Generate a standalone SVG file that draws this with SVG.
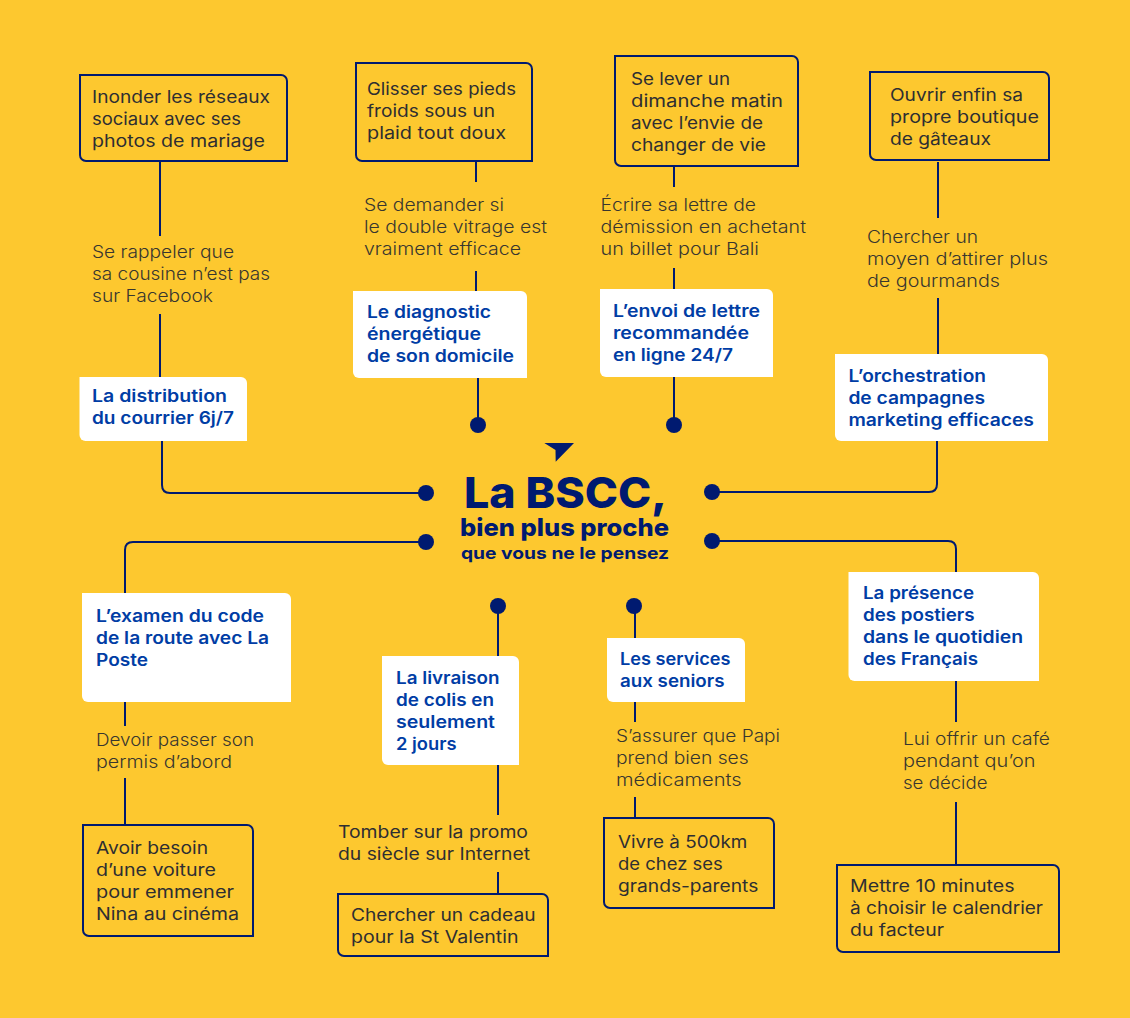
<svg xmlns="http://www.w3.org/2000/svg" width="1130" height="1018" viewBox="0 0 1130 1018">
<style>
text{font-family:"Inter","Open Sans","Liberation Sans",sans-serif;font-size:17px;fill:#38362f;font-weight:300}
.o{fill:none;stroke:#001a70;stroke-width:2}
.w{fill:#fff}
.c{fill:none;stroke:#001a70;stroke-width:2}
.d{fill:#001a70}
text.b{fill:#003da5;font-weight:600}
text.m{fill:#2e2e32;font-weight:400}
text.t{fill:#001a70;font-weight:800}
</style>
<rect width="1130" height="1018" fill="#fdc82f"/>
<g id="connectors">
<path class="c" d="M160 161V236M160 314V377M162 441V485Q162 493 170 493H426"/>
<path class="c" d="M476 161V182M476 271V291M478 378V425"/>
<path class="c" d="M674 166V187M674 268V289M674 377V425"/>
<path class="c" d="M938 162V218M938 298V354M937 441V484Q937 492 929 492H712"/>
<path class="c" d="M426 542H133Q125 542 125 550V593M125 702V726M125 778V825"/>
<path class="c" d="M498 606V656M498 765V815M498 872V894"/>
<path class="c" d="M635 606V638M635 702V722M635 797V818"/>
<path class="c" d="M712 541H948Q956 541 956 549V572M956 681V722M956 802V865"/>
<circle class="d" cx="426" cy="493" r="8"/><circle class="d" cx="478" cy="425" r="8"/><circle class="d" cx="674" cy="425" r="8"/><circle class="d" cx="712" cy="492" r="8"/>
<circle class="d" cx="426" cy="542" r="8"/><circle class="d" cx="498" cy="606" r="8"/><circle class="d" cx="634" cy="606" r="8"/><circle class="d" cx="712" cy="541" r="8"/>
</g>
<g id="center">
<path class="d" d="M544.3 443H574L555.7 461.7L555.5 450Z"/>
<text class="t" x="464" y="508" style="font-size:43px" lengthAdjust="spacingAndGlyphs" textLength="203">La BSCC,</text>
<text class="t" x="460" y="536" style="font-size:24px" lengthAdjust="spacingAndGlyphs" textLength="209">bien plus proche</text>
<text class="t" x="461" y="559" style="font-size:16.5px;font-weight:700" lengthAdjust="spacingAndGlyphs" textLength="208">que vous ne le pensez</text>
</g>
<g id="a1"><path class="o" d="M80 75H281A6 6 0 0 1 287 81V161H86A6 6 0 0 1 80 155Z"/>
<text class="m" x="92" y="103" lengthAdjust="spacingAndGlyphs" textLength="178">Inonder les réseaux</text><text class="m" x="92" y="125" lengthAdjust="spacingAndGlyphs" textLength="149">sociaux avec ses</text><text class="m" x="92" y="147" lengthAdjust="spacingAndGlyphs" textLength="173">photos de mariage</text></g>
<g id="a2"><text x="92" y="258" lengthAdjust="spacingAndGlyphs" textLength="142">Se rappeler que</text><text x="92" y="280" lengthAdjust="spacingAndGlyphs" textLength="178">sa cousine n’est pas</text><text x="92" y="302" lengthAdjust="spacingAndGlyphs" textLength="121">sur Facebook</text></g>
<g id="a3"><path class="w" d="M79.500 377H241A6 6 0 0 1 247 383V441H85.500A6 6 0 0 1 79.500 435Z"/>
<text class="b" x="92" y="402" lengthAdjust="spacingAndGlyphs" textLength="135">La distribution</text><text class="b" x="92" y="424" lengthAdjust="spacingAndGlyphs" textLength="142">du courrier 6j/7</text></g>
<g id="b1"><path class="o" d="M356 63H526A6 6 0 0 1 532 69V161H362A6 6 0 0 1 356 155Z"/>
<text class="m" x="367" y="95" lengthAdjust="spacingAndGlyphs" textLength="149">Glisser ses pieds</text><text class="m" x="367" y="117" lengthAdjust="spacingAndGlyphs" textLength="128">froids sous un</text><text class="m" x="367" y="139" lengthAdjust="spacingAndGlyphs" textLength="139">plaid tout doux</text></g>
<g id="b2"><text x="364" y="211" lengthAdjust="spacingAndGlyphs" textLength="140">Se demander si</text><text x="364" y="233" lengthAdjust="spacingAndGlyphs" textLength="183">le double vitrage est</text><text x="364" y="255" lengthAdjust="spacingAndGlyphs" textLength="157">vraiment efficace</text></g>
<g id="b3"><path class="w" d="M353 291H521A6 6 0 0 1 527 297V378H359A6 6 0 0 1 353 372Z"/>
<text class="b" x="367" y="318" lengthAdjust="spacingAndGlyphs" textLength="124">Le diagnostic</text><text class="b" x="367" y="340" lengthAdjust="spacingAndGlyphs" textLength="114">énergétique</text><text class="b" x="367" y="362" lengthAdjust="spacingAndGlyphs" textLength="147">de son domicile</text></g>
<g id="c1"><path class="o" d="M615 56H792A6 6 0 0 1 798 62V166H621A6 6 0 0 1 615 160Z"/>
<text class="m" x="631" y="84.500" lengthAdjust="spacingAndGlyphs" textLength="99">Se lever un</text><text class="m" x="631" y="106.500" lengthAdjust="spacingAndGlyphs" textLength="152">dimanche matin</text><text class="m" x="631" y="128.500" lengthAdjust="spacingAndGlyphs" textLength="132">avec l’envie de</text><text class="m" x="631" y="150.500" lengthAdjust="spacingAndGlyphs" textLength="135">changer de vie</text></g>
<g id="c2"><text x="600.500" y="210.700" lengthAdjust="spacingAndGlyphs" textLength="155.500">Écrire sa lettre de</text><text x="600.500" y="232.700" lengthAdjust="spacingAndGlyphs" textLength="205.500">démission en achetant</text><text x="600.500" y="254.700" lengthAdjust="spacingAndGlyphs" textLength="158.500">un billet pour Bali</text></g>
<g id="c3"><path class="w" d="M600 289H767A6 6 0 0 1 773 295V377H606A6 6 0 0 1 600 371Z"/>
<text class="b" x="613" y="316.700" lengthAdjust="spacingAndGlyphs" textLength="147">L’envoi de lettre</text><text class="b" x="613" y="338.700" lengthAdjust="spacingAndGlyphs" textLength="136">recommandée</text><text class="b" x="613" y="360.700" lengthAdjust="spacingAndGlyphs" textLength="120">en ligne 24/7</text></g>
<g id="d1"><path class="o" d="M870 72H1043A6 6 0 0 1 1049 78V160H876A6 6 0 0 1 870 154Z"/>
<text class="m" x="890" y="100.700" lengthAdjust="spacingAndGlyphs" textLength="133">Ouvrir enfin sa</text><text class="m" x="890" y="122.700" lengthAdjust="spacingAndGlyphs" textLength="149">propre boutique</text><text class="m" x="890" y="144.700" lengthAdjust="spacingAndGlyphs" textLength="101">de gâteaux</text></g>
<g id="d2"><text x="867" y="242.700" lengthAdjust="spacingAndGlyphs" textLength="111">Chercher un</text><text x="867" y="264.700" lengthAdjust="spacingAndGlyphs" textLength="181">moyen d’attirer plus</text><text x="867" y="286.700" lengthAdjust="spacingAndGlyphs" textLength="133">de gourmands</text></g>
<g id="d3"><path class="w" d="M835 354H1042A6 6 0 0 1 1048 360V441H841A6 6 0 0 1 835 435Z"/>
<text class="b" x="848.400" y="382.400" lengthAdjust="spacingAndGlyphs" textLength="137.600">L’orchestration</text><text class="b" x="848.400" y="404.400" lengthAdjust="spacingAndGlyphs" textLength="136.600">de campagnes</text><text class="b" x="848.400" y="426.400" lengthAdjust="spacingAndGlyphs" textLength="185.600">marketing efficaces</text></g>
<g id="e1"><path class="w" d="M82 593H285A6 6 0 0 1 291 599V702H88A6 6 0 0 1 82 696Z"/>
<text class="b" x="96" y="622" lengthAdjust="spacingAndGlyphs" textLength="168">L’examen du code</text><text class="b" x="96" y="644" lengthAdjust="spacingAndGlyphs" textLength="173">de la route avec La</text><text class="b" x="96" y="666" lengthAdjust="spacingAndGlyphs" textLength="52">Poste</text></g>
<g id="e2"><text x="96" y="746" lengthAdjust="spacingAndGlyphs" textLength="158">Devoir passer son</text><text x="96" y="768" lengthAdjust="spacingAndGlyphs" textLength="136">permis d’abord</text></g>
<g id="e3"><path class="o" d="M83 825H247A6 6 0 0 1 253 831V936H89A6 6 0 0 1 83 930Z"/>
<text class="m" x="96" y="853.500" lengthAdjust="spacingAndGlyphs" textLength="112">Avoir besoin</text><text class="m" x="96" y="875.500" lengthAdjust="spacingAndGlyphs" textLength="120">d’une voiture</text><text class="m" x="96" y="897.500" lengthAdjust="spacingAndGlyphs" textLength="138">pour emmener</text><text class="m" x="96" y="919.500" lengthAdjust="spacingAndGlyphs" textLength="143">Nina au cinéma</text></g>
<g id="f1"><path class="w" d="M382 656H513A6 6 0 0 1 519 662V765H388A6 6 0 0 1 382 759Z"/>
<text class="b" x="396" y="684.300" lengthAdjust="spacingAndGlyphs" textLength="103.500">La livraison</text><text class="b" x="396" y="706.300" lengthAdjust="spacingAndGlyphs" textLength="98">de colis en</text><text class="b" x="396" y="728.300" lengthAdjust="spacingAndGlyphs" textLength="99">seulement</text><text class="b" x="396" y="750.300" lengthAdjust="spacingAndGlyphs" textLength="60.500">2 jours</text></g>
<g id="f2"><text class="m" x="338" y="838" lengthAdjust="spacingAndGlyphs" textLength="190">Tomber sur la promo</text><text class="m" x="338" y="860" lengthAdjust="spacingAndGlyphs" textLength="192">du siècle sur Internet</text></g>
<g id="f3"><path class="o" d="M338 894H542A6 6 0 0 1 548 900V956H344A6 6 0 0 1 338 950Z"/>
<text class="m" x="351" y="920.700" lengthAdjust="spacingAndGlyphs" textLength="184.500">Chercher un cadeau</text><text class="m" x="351" y="942.700" lengthAdjust="spacingAndGlyphs" textLength="167.500">pour la St Valentin</text></g>
<g id="g1"><path class="w" d="M607 638H739A6 6 0 0 1 745 644V702H613A6 6 0 0 1 607 696Z"/>
<text class="b" x="620" y="665" lengthAdjust="spacingAndGlyphs" textLength="110.500">Les services</text><text class="b" x="620" y="687" lengthAdjust="spacingAndGlyphs" textLength="104.500">aux seniors</text></g>
<g id="g2"><text x="616" y="742.300" lengthAdjust="spacingAndGlyphs" textLength="164">S’assurer que Papi</text><text x="616" y="764.300" lengthAdjust="spacingAndGlyphs" textLength="132.700">prend bien ses</text><text x="616" y="786.300" lengthAdjust="spacingAndGlyphs" textLength="125.700">médicaments</text></g>
<g id="g3"><path class="o" d="M604 818H768A6 6 0 0 1 774 824V908H610A6 6 0 0 1 604 902Z"/>
<text class="m" x="618" y="848.300" lengthAdjust="spacingAndGlyphs" textLength="129.300">Vivre à 500km</text><text class="m" x="618" y="870.300" lengthAdjust="spacingAndGlyphs" textLength="104.800">de chez ses</text><text class="m" x="618" y="892.300" lengthAdjust="spacingAndGlyphs" textLength="140.300">grands-parents</text></g>
<g id="h1"><path class="w" d="M848.500 572H1033A6 6 0 0 1 1039 578V681H854.500A6 6 0 0 1 848.500 675Z"/>
<text class="b" x="863" y="599.300" lengthAdjust="spacingAndGlyphs" textLength="111">La présence</text><text class="b" x="863" y="621.300" lengthAdjust="spacingAndGlyphs" textLength="111.500">des postiers</text><text class="b" x="863" y="643.300" lengthAdjust="spacingAndGlyphs" textLength="160">dans le quotidien</text><text class="b" x="863" y="665.300" lengthAdjust="spacingAndGlyphs" textLength="115">des Français</text></g>
<g id="h2"><text x="903" y="745.300" lengthAdjust="spacingAndGlyphs" textLength="147">Lui offrir un café</text><text x="903" y="767.300" lengthAdjust="spacingAndGlyphs" textLength="132.500">pendant qu’on</text><text x="903" y="789.300" lengthAdjust="spacingAndGlyphs" textLength="84.500">se décide</text></g>
<g id="h3"><path class="o" d="M837 865H1053A6 6 0 0 1 1059 871V952H843A6 6 0 0 1 837 946Z"/>
<text class="m" x="850" y="892" lengthAdjust="spacingAndGlyphs" textLength="164.500">Mettre 10 minutes</text><text class="m" x="850" y="914" lengthAdjust="spacingAndGlyphs" textLength="193">à choisir le calendrier</text><text class="m" x="850" y="936" lengthAdjust="spacingAndGlyphs" textLength="94">du facteur</text></g>
</svg>
